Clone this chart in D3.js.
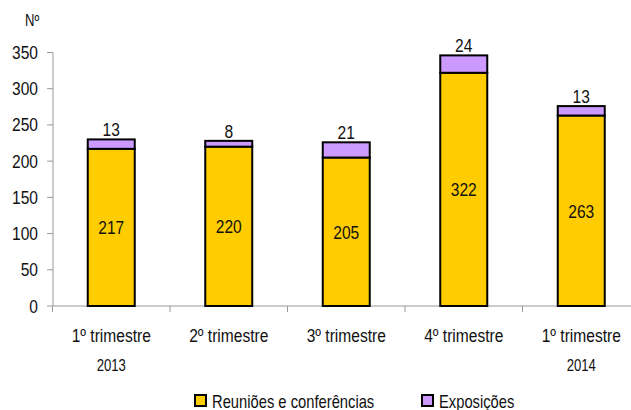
<!DOCTYPE html>
<html>
<head>
<meta charset="utf-8">
<script src="https://cdn.jsdelivr.net/npm/d3@7"></script>
<style>
  body { margin: 0; background: #fff; }
  svg text { font-family: "Liberation Sans", Arial, sans-serif; fill: #111; }
</style>
</head>
<body>
<div id="chart"></div>
<script>
// quarterly counts
const quarters = ['1º trimestre', '2º trimestre', '3º trimestre', '4º trimestre', '1º trimestre '];
const years = ['2013', '', '', '', '2014'];
const reunioes = [217, 220, 205, 322, 263];
const exposicoes = [13, 8, 21, 24, 13];
const yTicks = [0, 50, 100, 150, 200, 250, 300, 350];
const seriesNames = ['Reuniões e conferências', 'Exposições'];
const colors = ['#FFCC00', '#CC99FF'];

const width = 631, height = 410;
const svg = d3.select('#chart').append('svg')
    .attr('width', width)
    .attr('height', height);

// narrow text (arial narrow look) by squeezing liberation sans
function label(px, py, str, size, anchor) {
    return svg.append('text')
        .attr('transform', `translate(${px},${py}) scale(0.82,1)`)
        .attr('text-anchor', anchor || 'start')
        .attr('font-size', size + 'px')
        .text(str);
}

const x = d3.scaleBand().domain(quarters).range([52.5, 640]).paddingInner(0).paddingOuter(0);
const y = d3.scaleLinear().domain([0, 350]).range([306, 52.5]);
const barW = 47;

// y axis
svg.append('line')
    .attr('x1', 53).attr('x2', 53)
    .attr('y1', y(350)).attr('y2', y(0))
    .attr('stroke', '#999').attr('stroke-width', 1);
yTicks.forEach(t => {
    svg.append('line')
        .attr('x1', 47).attr('x2', 53)
        .attr('y1', y(t)).attr('y2', y(t))
        .attr('stroke', '#999');
    label(38, y(t) + 6.5, t, 19, 'end');
});

label(25, 26, 'Nº', 16);

// x axis
svg.append('line')
    .attr('x1', 53).attr('x2', 640)
    .attr('y1', y(0)).attr('y2', y(0))
    .attr('stroke', '#999');
quarters.forEach((q, i) => {
    const bx = x(q);
    svg.append('line')
        .attr('x1', bx).attr('x2', bx)
        .attr('y1', y(0)).attr('y2', y(0) + 6)
        .attr('stroke', '#999');
    label(bx + x.bandwidth() / 2, 342, q.trim(), 19, 'middle');
    if (years[i]) {
        label(bx + x.bandwidth() / 2, 371, years[i], 16, 'middle');
    }
});

// bars
quarters.forEach((q, i) => {
    const cx = x(q) + x.bandwidth() / 2;
    const a = reunioes[i], b = exposicoes[i];
    svg.append('rect')
        .attr('x', cx - barW / 2).attr('y', y(a))
        .attr('width', barW).attr('height', y(0) - y(a))
        .attr('fill', colors[0]).attr('stroke', '#000').attr('stroke-width', 2);
    svg.append('rect')
        .attr('x', cx - barW / 2).attr('y', y(a + b))
        .attr('width', barW).attr('height', y(a) - y(a + b))
        .attr('fill', colors[1]).attr('stroke', '#000').attr('stroke-width', 2);
    label(cx, (y(a) + y(0)) / 2 + 7, a, 19, 'middle');
    label(cx, y(a + b) - 3, b, 19, 'middle');
});

// legend
const legendX = [194, 421];
seriesNames.forEach((name, i) => {
    svg.append('rect')
        .attr('x', legendX[i] + 1).attr('y', 395)
        .attr('width', 11).attr('height', 11)
        .attr('fill', colors[i]).attr('stroke', '#000').attr('stroke-width', 2);
    label(legendX[i] + 18, 408, name, 18);
});
</script>
</body>
</html>
